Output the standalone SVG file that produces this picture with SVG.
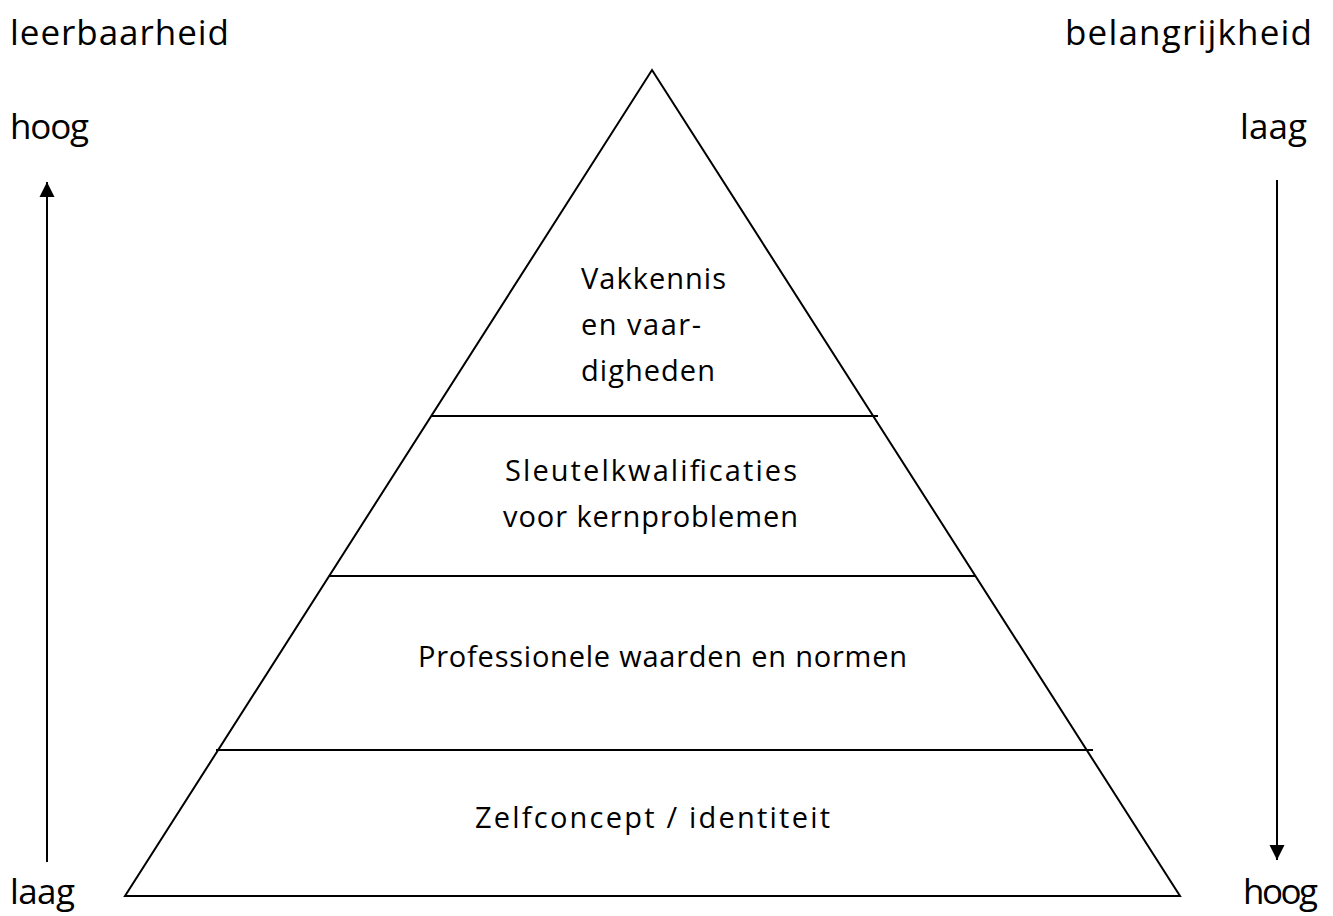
<svg xmlns="http://www.w3.org/2000/svg" width="1333" height="916" viewBox="0 0 1333 916">
<style>
  .lbl { font-family: "Open Sans", "Liberation Sans", sans-serif; fill: #000; }
  .outer { font-size: 35px; }
  .inner { font-size: 29px; }
  .ln { stroke: #000; stroke-width: 2; fill: none; }
</style>
<defs>
  <marker id="ah" viewBox="0 0 10 10" refX="10" refY="5" markerWidth="7.5" markerHeight="9" markerUnits="strokeWidth" orient="auto">
    <path d="M0,0 L10,5 L0,10 Z" fill="#000"/>
  </marker>
</defs>
<rect width="1333" height="916" fill="#fff"/>

<g id="labels-left">
  <text class="lbl outer" x="10" y="45" textLength="219">leerbaarheid</text>
  <text class="lbl outer" x="10" y="139" textLength="79">hoog</text>
  <text class="lbl outer" x="10" y="904" textLength="65">laag</text>
</g>
<g id="labels-right">
  <text class="lbl outer" x="1065" y="45" textLength="247">belangrijkheid</text>
  <text class="lbl outer" x="1240" y="139" textLength="67">laag</text>
  <text class="lbl outer" x="1243" y="904" textLength="75">hoog</text>
</g>

<g id="pyramid">
  <polygon class="ln" points="652,70 1180,896 125,896"/>
</g>
<g id="dividers">
  <line class="ln" x1="432" y1="416" x2="878" y2="416"/>
  <line class="ln" x1="330" y1="576" x2="975" y2="576"/>
  <line class="ln" x1="216" y1="750" x2="1093" y2="750"/>
</g>

<g id="level-vakkennis">
  <text class="lbl inner" x="581" y="289" textLength="145">Vakkennis</text>
  <text class="lbl inner" x="581" y="335" textLength="120">en vaar-</text>
  <text class="lbl inner" x="581" y="381" textLength="134">digheden</text>
</g>
<g id="level-sleutel">
  <text class="lbl inner" x="505" y="481" textLength="292">Sleutelkwalificaties</text>
  <text class="lbl inner" x="503" y="527" textLength="295">voor kernproblemen</text>
</g>
<g id="level-professioneel">
  <text class="lbl inner" x="418" y="667" textLength="489">Professionele waarden en normen</text>
</g>
<g id="level-zelfconcept">
  <text class="lbl inner" x="475" y="828" textLength="355">Zelfconcept / identiteit</text>
</g>

<g id="connectors">
  <line class="ln" x1="47" y1="862" x2="47" y2="182" marker-end="url(#ah)"/>
  <line class="ln" x1="1277" y1="180" x2="1277" y2="860" marker-end="url(#ah)"/>
</g>
</svg>
